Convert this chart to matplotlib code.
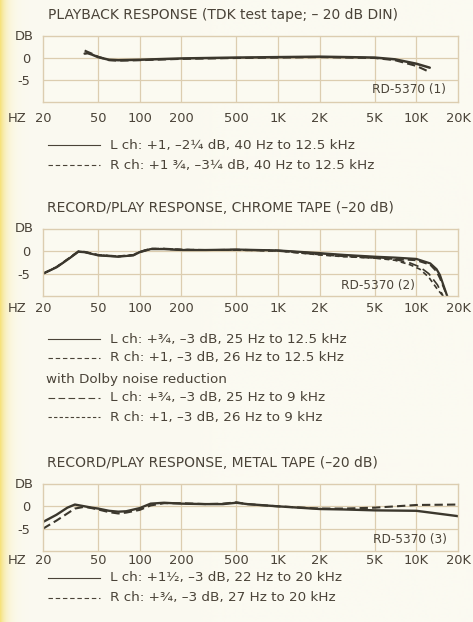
import numpy as np
import matplotlib
matplotlib.use("Agg")
import matplotlib.pyplot as plt
import matplotlib.transforms as mtrans
from matplotlib.lines import Line2D

plt.rcParams['font.family'] = ['DejaVu Sans']

# ---------------- data ----------------
xtick_vals = [20, 50, 100, 200, 500, 1000, 2000, 5000, 10000, 20000]
xtick_labels = ["20", "50", "100", "200", "500", "1K", "2K", "5K", "10K", "20K"]
ytick_vals = [0, -5]
ytick_labels = ["0", "-5"]

# Panel 1: playback response
f1 = [40, 42, 45, 50, 60, 70, 100, 200, 500, 1000, 2000, 5000, 7000, 10000, 12500]
L1 = [1.0, 1.1, 0.8, 0.2, -0.4, -0.5, -0.4, -0.1, 0.1, 0.2, 0.3, 0.1, -0.3, -1.3, -2.2]
R1 = [1.7, 1.4, 1.0, 0.3, -0.5, -0.6, -0.5, -0.2, 0.0, 0.1, 0.2, 0.0, -0.5, -1.8, -3.2]

# Panel 2: record/play chrome tape
f2 = [20, 25, 30, 36, 40, 50, 70, 90, 100, 120, 150, 200, 300, 500, 1000, 2000,
      3000, 5000, 7000, 10000, 12600, 14000, 14800, 16700]
L2 = [-5.0, -3.6, -1.9, -0.1, -0.2, -0.9, -1.2, -0.9, -0.2, 0.5, 0.5, 0.3, 0.3, 0.4,
      0.2, -0.4, -0.8, -1.2, -1.4, -1.7, -2.7, -4.0, -5.3, -10.0]
R2 = [-5.0, -3.5, -1.8, 0.0, -0.1, -0.8, -1.1, -0.8, -0.1, 0.6, 0.6, 0.4, 0.3, 0.3,
      0.1, -0.7, -1.1, -1.5, -1.7, -2.0, -3.0, -4.5, -6.0, -10.0]
f2d = [20, 25, 30, 36, 40, 50, 70, 90, 100, 120, 150, 200, 300, 500, 1000, 2000,
       3000, 5000, 7000, 9000, 10600, 12300, 14200, 15600]
LD2 = [-5.0, -3.6, -1.9, -0.1, -0.2, -0.9, -1.2, -0.9, -0.2, 0.5, 0.5, 0.3, 0.3, 0.4,
       0.2, -0.5, -0.9, -1.3, -1.8, -2.6, -3.5, -5.0, -7.5, -10.0]
RD2 = [-5.0, -3.5, -1.8, 0.0, -0.1, -0.8, -1.1, -0.8, -0.1, 0.6, 0.6, 0.4, 0.3, 0.3,
       0.1, -0.8, -1.2, -1.5, -2.0, -3.0, -4.0, -5.8, -8.5, -10.0]

# Panel 3: record/play metal tape
f3 = [20, 25, 30, 34, 40, 45, 50, 60, 70, 80, 100, 120, 150, 200, 300, 400, 500,
      600, 1000, 2000, 3000, 5000, 10000, 20000]
L3 = [-3.5, -1.9, -0.3, 0.4, 0.0, -0.3, -0.5, -1.0, -1.2, -1.1, -0.4, 0.6, 0.8, 0.6,
      0.5, 0.5, 0.8, 0.5, 0.0, -0.6, -0.7, -0.9, -1.0, -2.2]
R3 = [-5.0, -3.2, -1.6, -0.5, -0.1, -0.4, -0.7, -1.3, -1.6, -1.4, -0.8, 0.2, 0.7, 0.7,
      0.5, 0.6, 0.9, 0.5, 0.0, -0.5, -0.5, -0.3, 0.3, 0.4]

titles = ["PLAYBACK RESPONSE (TDK test tape; \u2013 20 dB DIN)",
          "RECORD/PLAY RESPONSE, CHROME TAPE (\u201320 dB)",
          "RECORD/PLAY RESPONSE, METAL TAPE (\u201320 dB)"]
tags = ["RD-5370 (1)", "RD-5370 (2)", "RD-5370 (3)"]

# ---------------- style ----------------
W, H = 473, 622
BG = "#fbfaf1"
TXT = "#4a4338"
CURVE = "#3b372d"
GRID = "#dccdb0"
FS_TITLE = 10.0
FS_TICK = 9.4
FS_TAG = 8.7
FS_LEG = 9.7

fig = plt.figure(figsize=(W / 100, H / 100), dpi=100, facecolor=BG)

# left yellow scan strip
bg_ax = fig.add_axes([0, 0, 1, 1], zorder=-10)
xs = np.arange(W)
t = np.exp(-xs / 6.0)
c0 = np.array([246, 226, 125]) / 255
c1 = np.array([251, 250, 241]) / 255
row = (t[:, None] * c0 + (1 - t[:, None]) * c1)
img = np.repeat(row[None, :, :], 2, axis=0)
bg_ax.imshow(img, aspect="auto", extent=[0, 1, 0, 1])
bg_ax.axis("off")


def fx(x):
    return x / W


def fy(y):
    return 1 - y / H


def make_axes(top, bottom, xpad, tag, tag_right, tag_y, left=43, right=458):
    ax = fig.add_axes([fx(left), fy(bottom), fx(right - left), (bottom - top) / H])
    ax.set_facecolor(BG)
    ax.set_xscale("log")
    ax.set_xlim(20, 20000)
    ax.set_ylim(-10, 5)
    ax.set_xticks(xtick_vals)
    ax.set_xticklabels(xtick_labels)
    ax.xaxis.set_minor_locator(matplotlib.ticker.NullLocator())
    ax.set_yticks(ytick_vals)
    ax.set_yticklabels(ytick_labels)
    ax.tick_params(length=0, labelsize=FS_TICK, labelcolor=TXT)
    ax.tick_params(axis="x", pad=xpad)
    ax.tick_params(axis="y", pad=9)
    for s in ax.spines.values():
        s.set_color(GRID)
        s.set_linewidth(1.0)
    for v in xtick_vals[1:-1]:
        ax.axvline(v, color=GRID, lw=0.9, zorder=0)
    for v in ytick_vals:
        ax.axhline(v, color=GRID, lw=0.9, zorder=0)
    # "DB" above the y labels, "HZ" in line with the x labels
    fig.text(fx(15), fy(top), "DB", fontsize=FS_TICK, color=TXT, va="center", ha="left")
    base = mtrans.blended_transform_factory(fig.transFigure, ax.transAxes)
    tr = mtrans.offset_copy(base, fig=fig, x=0, y=-xpad, units="points")
    fig.text(fx(8), 0, "HZ", fontsize=FS_TICK, color=TXT, va="top", ha="left",
             transform=tr)
    fig.text(fx(tag_right), fy(tag_y), tag, fontsize=FS_TAG, color=TXT,
             va="center", ha="right")
    return ax


def legend_line(y, ls, text):
    fig.add_artist(Line2D([fx(48), fx(100)], [fy(y), fy(y)], color=TXT, lw=0.8,
                          linestyle=ls))
    fig.text(fx(110), fy(y), text, fontsize=FS_LEG, color=TXT, va="center", ha="left")


# ---------------- panel 1 ----------------
fig.text(fx(48), fy(15), titles[0], fontsize=FS_TITLE, color=TXT, va="center")
ax1 = make_axes(36, 102, 7.0, tags[0], 446, 90)
ax1.plot(f1, L1, color=CURVE, lw=1.8, solid_capstyle="round")
ax1.plot(f1, R1, color=CURVE, lw=1.5, linestyle=(0, (4, 2)))
legend_line(145, "-", "L ch: +1, \u20132\u00bc dB, 40 Hz to 12.5 kHz")
legend_line(165, (0, (4, 2.5)), "R ch: +1 \u00be, \u20133\u00bc dB, 40 Hz to 12.5 kHz")

# ---------------- panel 2 ----------------
fig.text(fx(47), fy(208), titles[1], fontsize=FS_TITLE, color=TXT, va="center")
ax2 = make_axes(229, 296, 4.5, tags[1], 415, 285)
ax2.plot(f2, L2, color=CURVE, lw=1.6)
ax2.plot(f2, R2, color=CURVE, lw=1.4, linestyle=(0, (4, 2)))
ax2.plot(f2d, LD2, color=CURVE, lw=1.2, linestyle=(0, (6, 3)))
ax2.plot(f2d, RD2, color=CURVE, lw=1.2, linestyle=(0, (3, 2)))
legend_line(339, "-", "L ch: +\u00be, \u20133 dB, 25 Hz to 12.5 kHz")
legend_line(358, (0, (4, 2.5)), "R ch: +1, \u20133 dB, 26 Hz to 12.5 kHz")
fig.text(fx(46), fy(379), "with Dolby noise reduction", fontsize=FS_LEG, color=TXT, va="center")
legend_line(398, (0, (6, 3)), "L ch: +\u00be, \u20133 dB, 25 Hz to 9 kHz")
legend_line(417, (0, (3, 2)), "R ch: +1, \u20133 dB, 26 Hz to 9 kHz")

# ---------------- panel 3 ----------------
fig.text(fx(47), fy(463), titles[2], fontsize=FS_TITLE, color=TXT, va="center")
ax3 = make_axes(484, 551, 2.0, tags[2], 447, 540)
ax3.plot(f3, L3, color=CURVE, lw=1.7)
ax3.plot(f3, R3, color=CURVE, lw=1.5, linestyle=(0, (4, 2)))
legend_line(578, "-", "L ch: +1\u00bd, \u20133 dB, 22 Hz to 20 kHz")
legend_line(598, (0, (4, 2.5)), "R ch: +\u00be, \u20133 dB, 27 Hz to 20 kHz")

fig.savefig("out.png", dpi=100, facecolor=BG)
